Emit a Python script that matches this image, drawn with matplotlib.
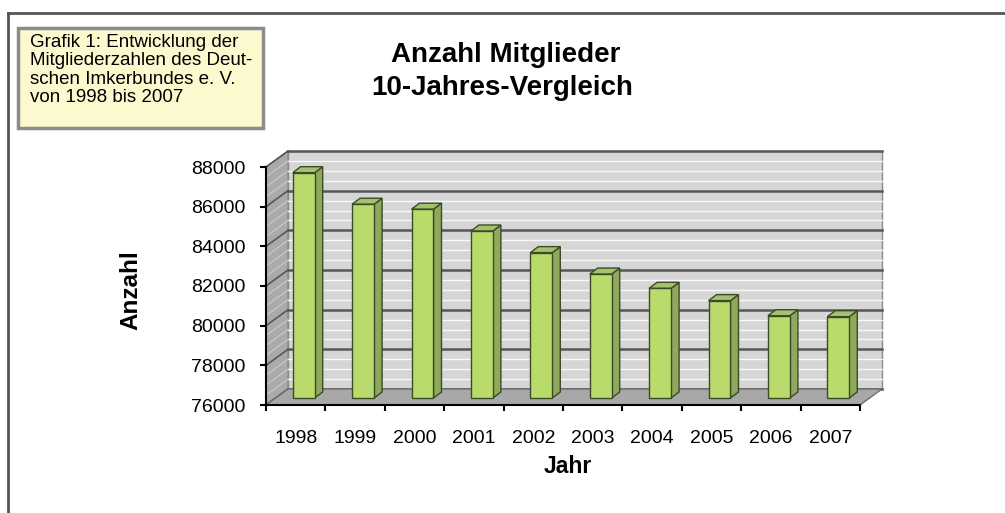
import matplotlib.pyplot as plt
import matplotlib.patches as mpatches
from matplotlib.lines import Line2D
import numpy as np

plt.rcParams['font.family'] = ['Liberation Sans', 'DejaVu Sans']

# ---- Daten -------------------------------------------------
jahre = ['1998', '1999', '2000', '2001', '2002', '2003', '2004', '2005', '2006', '2007']
mitglieder = [87360, 85770, 85520, 84420, 83330, 82250, 81530, 80910, 80150, 80100]
y_ticks = [76000, 78000, 80000, 82000, 84000, 86000, 88000]

titel = ['Anzahl Mitglieder', '10-Jahres-Vergleich']
info = ['Grafik 1: Entwicklung der', 'Mitgliederzahlen des Deut-',
        'schen Imkerbundes e. V.', 'von 1998 bis 2007']

W, H = 1005, 513
fig = plt.figure(figsize=(W / 100.0, H / 100.0), dpi=100)
fig.patch.set_facecolor('white')


def fx(x):
    return x / float(W)


def fy(y):
    return 1 - y / float(H)


# front plane of the pseudo 3d chart
ax = fig.add_axes([fx(266), fy(405), 594.0 / W, 238.0 / H])
n = len(jahre)
y0, y1 = y_ticks[0], y_ticks[-1]
ax.set_xlim(0, n)
ax.set_ylim(y0, y1)
ax.patch.set_visible(False)

# pixel -> data units
bb = ax.get_window_extent()
sx = n / bb.width
sy = (y1 - y0) / bb.height

bx, by = 22 * sx, 16 * sy     # depth of the back wall
ox, oy = 8 * sx, 7 * sy       # front face of the bars
dx, dy = 8 * sx, 6 * sy       # depth of the bars
bar_w = 0.37

# back wall
ax.add_patch(mpatches.Polygon([(bx, y0 + by), (n + bx, y0 + by), (n + bx, y1 + by), (bx, y1 + by)],
                              closed=True, fc='#d6d6d6', ec='#8a8a8a', lw=1, clip_on=False, zorder=1))
# left wall
ax.add_patch(mpatches.Polygon([(0, y0), (bx, y0 + by), (bx, y1 + by), (0, y1)],
                              closed=True, fc='#aaaaaa', ec='#8a8a8a', lw=1, clip_on=False, zorder=1))

# light stripes on the walls
for v in np.arange(y0, y1, 500):
    if v in y_ticks:
        continue
    ax.plot([bx, n + bx], [v + by, v + by], color='white', lw=1.0, alpha=0.85, clip_on=False, zorder=2)
    ax.plot([0, bx], [v, v + by], color='#d8d8d8', lw=0.8, alpha=0.7, clip_on=False, zorder=2)

# grid lines
for v in y_ticks:
    ax.plot([bx, n + bx], [v + by, v + by], color='#575757', lw=1.8, clip_on=False, zorder=3)
    ax.plot([0, bx], [v, v + by], color='#575757', lw=1.2, clip_on=False, zorder=3)

# floor
ax.add_patch(mpatches.Polygon([(0, y0), (n, y0), (n + bx, y0 + by), (bx, y0 + by)],
                              closed=True, fc='#a8a8a8', ec='#6e6e6e', lw=1, clip_on=False, zorder=4))

# bars
for i, v in enumerate(mitglieder):
    xl = i + 0.5 - bar_w / 2 + ox
    xr = xl + bar_w
    yb = y0 + oy
    yt = v + oy
    ax.add_patch(mpatches.Polygon([(xr, yb), (xr + dx, yb + dy), (xr + dx, yt + dy), (xr, yt)],
                                  closed=True, fc='#8ea85c', ec='#3c4a28', lw=1, clip_on=False, zorder=5))
    ax.add_patch(mpatches.Polygon([(xl, yt), (xr, yt), (xr + dx, yt + dy), (xl + dx, yt + dy)],
                                  closed=True, fc='#a3c26e', ec='#3c4a28', lw=1, clip_on=False, zorder=5))
    ax.add_patch(mpatches.Rectangle((xl, yb), bar_w, v - y0, fc='#b8db6c', ec='#3c4a28',
                                    lw=1, clip_on=False, zorder=6))

# axes
for s in ['top', 'right']:
    ax.spines[s].set_visible(False)
for s in ['left', 'bottom']:
    ax.spines[s].set_color('black')
    ax.spines[s].set_linewidth(1.5)
    ax.spines[s].set_zorder(7)

ax.set_yticks(y_ticks)
ax.set_yticklabels([str(t) for t in y_ticks], fontsize=14)
ax.tick_params(axis='y', direction='out', length=4.5, width=1.5, pad=10)

ax.set_xticks(range(n + 1))
ax.set_xticklabels([])
ax.set_xticks(np.arange(n) + 0.5, minor=True)
ax.set_xticklabels(jahre, minor=True, fontsize=14)
ax.tick_params(axis='x', which='major', direction='out', length=4.5, width=1.5)
ax.tick_params(axis='x', which='minor', length=0, pad=18)

# titles and labels
fig.text(fx(506), fy(62), titel[0], ha='center', va='baseline', fontsize=20, fontweight='bold')
fig.text(fx(502), fy(95), titel[1], ha='center', va='baseline', fontsize=20, fontweight='bold')
fig.text(fx(131), fy(290), 'Anzahl', rotation=90, ha='center', va='center', fontsize=17.5, fontweight='bold')
fig.text(fx(568), fy(473), 'Jahr', ha='center', va='baseline', fontsize=16.5, fontweight='bold')

# info box
fig.add_artist(mpatches.Rectangle((fx(18), fy(128)), 245.0 / W, 100.0 / H, transform=fig.transFigure,
                                  fc='#fdf9cf', ec='#8c8c8c', lw=2.5))
for k, line in enumerate(info):
    fig.text(fx(30), fy(47 + 18.3 * k), line, ha='left', va='baseline', fontsize=13.5)

# outer frame
fig.add_artist(Line2D([fx(8), 1], [fy(13), fy(13)], color='#555555', lw=2, transform=fig.transFigure))
fig.add_artist(Line2D([fx(8), fx(8)], [fy(13), 0], color='#555555', lw=2, transform=fig.transFigure))

fig.savefig('out.png', dpi=100)
